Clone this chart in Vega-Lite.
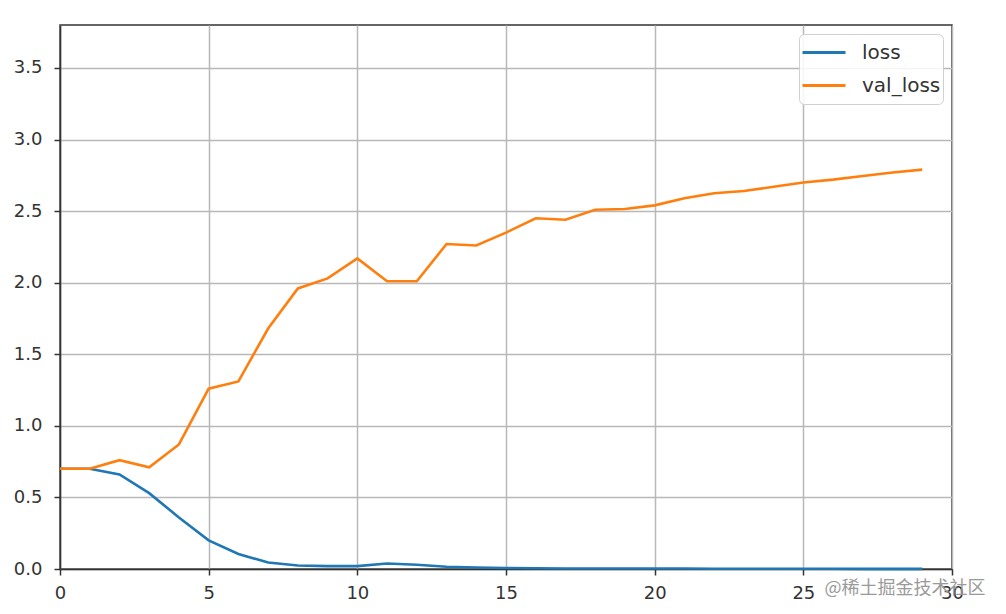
{
  "$schema": "https://vega.github.io/schema/vega-lite/v6.json",
  "autosize": "none",
  "padding": {"left": 60, "top": 25, "right": 54, "bottom": 45},
  "width": 892,
  "height": 544,
  "background": "white",
  "title": {
    "text": "@稀土掘金技术社区",
    "orient": "bottom",
    "anchor": "end",
    "dx": 22,
    "offset": -22,
    "fontSize": 18,
    "fontWeight": "normal",
    "font": "Noto Sans CJK SC",
    "color": "#9a9a9a"
  },
  "config": {
    "view": {"stroke": "#333333", "strokeWidth": 1.5},
    "axis": {
      "labelFont": "DejaVu Sans",
      "labelFontSize": 18,
      "labelColor": "#333333",
      "tickColor": "#333333",
      "tickWidth": 1.5,
      "tickSize": 6,
      "domainColor": "#333333",
      "domainWidth": 1.5,
      "gridColor": "#b8b8b8",
      "gridWidth": 1.5,
      "gridOpacity": 1,
      "title": null
    },
    "legend": {
      "labelFont": "DejaVu Sans",
      "labelFontSize": 20,
      "labelColor": "#333333"
    }
  },
  "data": {
    "values": [
      {"epoch": 0, "series": "loss", "value": 0.70},
      {"epoch": 1, "series": "loss", "value": 0.70},
      {"epoch": 2, "series": "loss", "value": 0.66},
      {"epoch": 3, "series": "loss", "value": 0.53},
      {"epoch": 4, "series": "loss", "value": 0.36},
      {"epoch": 5, "series": "loss", "value": 0.20},
      {"epoch": 6, "series": "loss", "value": 0.105},
      {"epoch": 7, "series": "loss", "value": 0.045},
      {"epoch": 8, "series": "loss", "value": 0.024},
      {"epoch": 9, "series": "loss", "value": 0.02},
      {"epoch": 10, "series": "loss", "value": 0.02},
      {"epoch": 11, "series": "loss", "value": 0.038},
      {"epoch": 12, "series": "loss", "value": 0.03},
      {"epoch": 13, "series": "loss", "value": 0.016},
      {"epoch": 14, "series": "loss", "value": 0.01},
      {"epoch": 15, "series": "loss", "value": 0.007},
      {"epoch": 16, "series": "loss", "value": 0.005},
      {"epoch": 17, "series": "loss", "value": 0.004},
      {"epoch": 18, "series": "loss", "value": 0.004},
      {"epoch": 19, "series": "loss", "value": 0.003},
      {"epoch": 20, "series": "loss", "value": 0.003},
      {"epoch": 21, "series": "loss", "value": 0.003},
      {"epoch": 22, "series": "loss", "value": 0.002},
      {"epoch": 23, "series": "loss", "value": 0.002},
      {"epoch": 24, "series": "loss", "value": 0.002},
      {"epoch": 25, "series": "loss", "value": 0.002},
      {"epoch": 26, "series": "loss", "value": 0.002},
      {"epoch": 27, "series": "loss", "value": 0.001},
      {"epoch": 28, "series": "loss", "value": 0.001},
      {"epoch": 29, "series": "loss", "value": 0.001},
      {"epoch": 0, "series": "val_loss", "value": 0.70},
      {"epoch": 1, "series": "val_loss", "value": 0.70},
      {"epoch": 2, "series": "val_loss", "value": 0.76},
      {"epoch": 3, "series": "val_loss", "value": 0.71},
      {"epoch": 4, "series": "val_loss", "value": 0.87},
      {"epoch": 5, "series": "val_loss", "value": 1.26},
      {"epoch": 6, "series": "val_loss", "value": 1.31},
      {"epoch": 7, "series": "val_loss", "value": 1.68},
      {"epoch": 8, "series": "val_loss", "value": 1.96},
      {"epoch": 9, "series": "val_loss", "value": 2.03},
      {"epoch": 10, "series": "val_loss", "value": 2.17},
      {"epoch": 11, "series": "val_loss", "value": 2.01},
      {"epoch": 12, "series": "val_loss", "value": 2.01},
      {"epoch": 13, "series": "val_loss", "value": 2.27},
      {"epoch": 14, "series": "val_loss", "value": 2.26},
      {"epoch": 15, "series": "val_loss", "value": 2.35},
      {"epoch": 16, "series": "val_loss", "value": 2.45},
      {"epoch": 17, "series": "val_loss", "value": 2.44},
      {"epoch": 18, "series": "val_loss", "value": 2.51},
      {"epoch": 19, "series": "val_loss", "value": 2.515},
      {"epoch": 20, "series": "val_loss", "value": 2.54},
      {"epoch": 21, "series": "val_loss", "value": 2.59},
      {"epoch": 22, "series": "val_loss", "value": 2.625},
      {"epoch": 23, "series": "val_loss", "value": 2.64},
      {"epoch": 24, "series": "val_loss", "value": 2.67},
      {"epoch": 25, "series": "val_loss", "value": 2.70},
      {"epoch": 26, "series": "val_loss", "value": 2.72},
      {"epoch": 27, "series": "val_loss", "value": 2.745},
      {"epoch": 28, "series": "val_loss", "value": 2.77},
      {"epoch": 29, "series": "val_loss", "value": 2.79}
    ]
  },
  "mark": {"type": "line", "strokeWidth": 2.6},
  "encoding": {
    "x": {
      "field": "epoch",
      "type": "quantitative",
      "scale": {"domain": [0, 30], "nice": false, "zero": false},
      "axis": {"values": [0, 5, 10, 15, 20, 25, 30], "format": "d", "labelPadding": 9, "labelFlush": false, "labelOverlap": false}
    },
    "y": {
      "field": "value",
      "type": "quantitative",
      "scale": {"domain": [0, 3.8], "nice": false},
      "axis": {"values": [0, 0.5, 1, 1.5, 2, 2.5, 3, 3.5], "format": ".1f", "labelPadding": 12, "labelFlush": false, "labelOverlap": false}
    },
    "color": {
      "field": "series",
      "type": "nominal",
      "scale": {"domain": ["loss", "val_loss"], "range": ["#1f77b4", "#ff7f0e"]},
      "legend": {
        "title": null,
        "orient": "top-right",
        "offset": 9,
        "symbolType": "stroke",
        "symbolSize": 1849,
        "symbolStrokeWidth": 3,
        "clipHeight": 33,
        "labelOffset": 15,
        "rowPadding": 0,
        "padding": 2,
        "strokeColor": "#d0d0d0",
        "fillColor": "rgba(255,255,255,0.85)",
        "cornerRadius": 5
      }
    }
  }
}
